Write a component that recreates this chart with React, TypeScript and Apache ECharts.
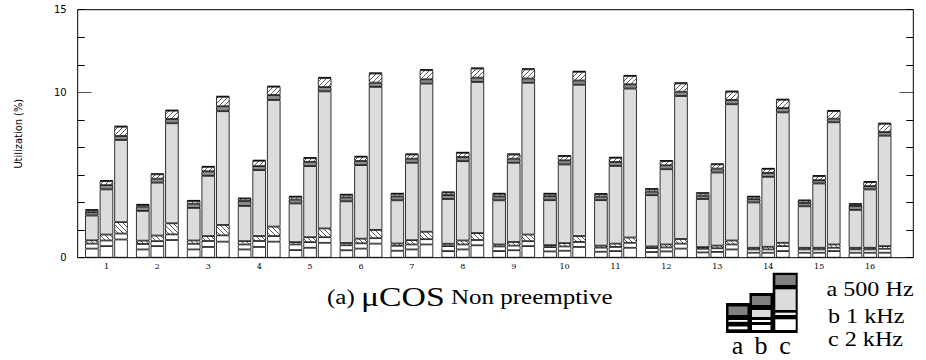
import React, { useEffect, useRef } from "react";
import * as echarts from "echarts";

const groups = ["1","2","3","4","5","6","7","8","9","10","11","12","13","14","15","16"];

// bar a (500 Hz)
const aWhite1 = [0.55,0.5,0.5,0.5,0.46,0.45,0.42,0.4,0.4,0.38,0.36,0.34,0.32,0.3,0.3,0.3];
const aWhite2 = [0.3,0.33,0.34,0.3,0.34,0.3,0.3,0.3,0.28,0.26,0.25,0.24,0.22,0.2,0.2,0.2];
const aHatchLow = [0.2,0.2,0.2,0.2,0.14,0.14,0.14,0.14,0.12,0.12,0.12,0.1,0.1,0.1,0.1,0.1];
const aGray = [1.5,1.8,1.97,2.13,2.34,2.52,2.61,2.71,2.67,2.72,2.75,3.1,2.91,2.74,2.51,2.29];
const aDark = [0.2,0.26,0.26,0.3,0.24,0.24,0.24,0.24,0.24,0.24,0.22,0.22,0.2,0.2,0.2,0.24];
const aHatchTop = [0.12,0.1,0.16,0.14,0.16,0.15,0.15,0.15,0.15,0.14,0.14,0.14,0.14,0.14,0.14,0.1];
const aCap = [0.06,0.06,0.06,0.06,0.06,0.06,0.06,0.06,0.06,0.06,0.06,0.06,0.06,0.06,0.06,0.06];

// bar b (1 kHz)
const bWhite1 = [0.7,0.7,0.65,0.65,0.6,0.55,0.5,0.5,0.45,0.42,0.4,0.38,0.35,0.3,0.3,0.3];
const bWhite2 = [0.34,0.3,0.36,0.36,0.34,0.32,0.3,0.3,0.28,0.26,0.25,0.24,0.22,0.2,0.2,0.2];
const bHatchLow = [0.36,0.34,0.3,0.3,0.3,0.28,0.26,0.24,0.22,0.2,0.2,0.18,0.16,0.16,0.1,0.1];
const bGray = [2.73,3.2,3.64,3.99,4.3,4.45,4.68,4.8,4.79,4.76,4.7,4.55,4.42,4.23,3.89,3.53];
const bDark = [0.26,0.24,0.28,0.24,0.26,0.25,0.25,0.25,0.25,0.25,0.24,0.24,0.24,0.24,0.2,0.2];
const bHatchTop = [0.24,0.26,0.26,0.32,0.22,0.25,0.25,0.25,0.25,0.25,0.25,0.25,0.25,0.24,0.24,0.24];
const bCap = [0.06,0.06,0.06,0.06,0.06,0.06,0.06,0.06,0.06,0.06,0.06,0.06,0.06,0.06,0.06,0.06];

// bar c (2 kHz)
const cWhite1 = [1.1,1.07,0.97,0.97,0.9,0.85,0.8,0.75,0.7,0.65,0.6,0.55,0.5,0.4,0.4,0.3];
const cWhite2 = [0.36,0.34,0.38,0.34,0.34,0.33,0.32,0.32,0.3,0.3,0.3,0.3,0.3,0.3,0.2,0.24];
const cHatchLow = [0.69,0.67,0.63,0.57,0.53,0.5,0.45,0.42,0.4,0.36,0.32,0.28,0.24,0.2,0.2,0.16];
const cGray = [4.97,6.05,6.88,7.66,8.29,8.65,8.96,9.14,9.18,9.15,9.01,8.65,8.24,7.89,7.39,6.68];
const cDark = [0.24,0.26,0.3,0.3,0.26,0.26,0.26,0.26,0.26,0.26,0.26,0.26,0.26,0.26,0.22,0.22];
const cHatchTop = [0.56,0.5,0.57,0.5,0.55,0.55,0.55,0.55,0.55,0.52,0.5,0.5,0.5,0.5,0.46,0.5];
const cCap = [0.06,0.06,0.06,0.06,0.06,0.06,0.06,0.06,0.06,0.06,0.06,0.06,0.06,0.06,0.06,0.06];

const yTickValues = [0, 5 / 3, 10 / 3, 5, 20 / 3, 25 / 3, 10, 35 / 3, 40 / 3, 15];
const yLabelValues = [0, 10, 15];

function makeHatch(forward: boolean): any {
  const s = 5;
  const c = document.createElement("canvas");
  c.width = s;
  c.height = s;
  const ctx = c.getContext("2d")!;
  ctx.fillStyle = "#fff";
  ctx.fillRect(0, 0, s, s);
  ctx.strokeStyle = "#333";
  ctx.lineWidth = 0.8;
  ctx.beginPath();
  if (forward) {
    ctx.moveTo(0, s); ctx.lineTo(s, 0);
    ctx.moveTo(-1, 1); ctx.lineTo(1, -1);
    ctx.moveTo(s - 1, s + 1); ctx.lineTo(s + 1, s - 1);
  } else {
    ctx.moveTo(0, 0); ctx.lineTo(s, s);
    ctx.moveTo(-1, s - 1); ctx.lineTo(1, s + 1);
    ctx.moveTo(s - 1, -1); ctx.lineTo(s + 1, 1);
  }
  ctx.stroke();
  return { image: c, repeat: "repeat" };
}

export default function App() {
  const ref = useRef<HTMLDivElement>(null);
  useEffect(() => {
    if (!ref.current) return;
    const chart = echarts.init(ref.current, null, { renderer: "svg" });

    const segmentLooks = [
      { key: "w1", color: "#ffffff" },
      { key: "w2", color: "#ffffff" },
      { key: "hl", color: makeHatch(false) },
      { key: "g", color: "#dcdcdc" },
      { key: "d", color: "#8a8a8a" },
      { key: "ht", color: makeHatch(true) },
      { key: "cap", color: "#000000" },
    ];
    const barSets = [
      { stack: "a", data: [aWhite1, aWhite2, aHatchLow, aGray, aDark, aHatchTop, aCap] },
      { stack: "b", data: [bWhite1, bWhite2, bHatchLow, bGray, bDark, bHatchTop, bCap] },
      { stack: "c", data: [cWhite1, cWhite2, cHatchLow, cGray, cDark, cHatchTop, cCap] },
    ];

    const series: any[] = [];
    barSets.forEach((set) => {
      set.data.forEach((arr, i) => {
        const look: any = segmentLooks[i];
        series.push({
          type: "bar",
          name: set.stack + "-" + look.key,
          stack: set.stack,
          xAxisIndex: 0,
          yAxisIndex: 0,
          barWidth: 13.5,
          barGap: "8%",
          data: arr,
          itemStyle: {
            color: look.color,
            borderColor: "#000",
            borderWidth: 0.8,
          },
          emphasis: { disabled: true },
        });
      });
    });

    const serif = "'Liberation Serif', 'Times New Roman', serif";
    const option: any = {
      animation: false,
      backgroundColor: "#fff",
      grid: [
        { left: 81, right: 30.5, top: 9.7, bottom: 102.3, show: false },
        { left: 77.7, right: 12.7, top: 9.7, bottom: 102.3, show: true, borderColor: "#000", borderWidth: 1, backgroundColor: "transparent", z: 10 },
      ],
      xAxis: [
        {
          type: "category",
          gridIndex: 0,
          data: groups,
          axisLine: { show: false },
          axisTick: { show: false },
          axisLabel: { fontFamily: "'DejaVu Serif', serif", fontSize: 8, color: "#000", margin: 5 },
        },
        { type: "value", gridIndex: 1, min: 0, max: 1, show: false },
      ],
      yAxis: [
        { type: "value", gridIndex: 0, min: 0, max: 15, show: false },
        {
          type: "value",
          gridIndex: 1,
          min: 0,
          max: 15,
          position: "left",
          splitLine: { show: false },
          axisLine: { show: false },
          axisTick: { show: true, inside: true, length: 7, customValues: yTickValues, lineStyle: { color: "#000" } },
          axisLabel: { customValues: yLabelValues, fontFamily: "'DejaVu Sans', sans-serif", fontSize: 10, color: "#000", margin: 11 },
          name: "Utilization (%)",
          nameLocation: "middle",
          nameGap: 54,
          nameRotate: 90,
          nameTextStyle: { fontFamily: "'Liberation Sans Narrow', 'DejaVu Sans Condensed', sans-serif", fontSize: 11, color: "#000" },
        },
        {
          type: "value",
          gridIndex: 1,
          min: 0,
          max: 15,
          position: "left",
          splitLine: { show: false },
          axisLine: { show: false },
          axisTick: { show: true, inside: true, length: 14, customValues: [10], lineStyle: { color: "#555" } },
          axisLabel: { show: false },
        },
        {
          type: "value",
          gridIndex: 1,
          min: 0,
          max: 15,
          position: "right",
          splitLine: { show: false },
          axisLine: { show: false },
          axisTick: { show: true, inside: true, length: 7, customValues: yTickValues, lineStyle: { color: "#000" } },
          axisLabel: { show: false },
        },
        {
          type: "value",
          gridIndex: 1,
          min: 0,
          max: 15,
          position: "right",
          splitLine: { show: false },
          axisLine: { show: false },
          axisTick: { show: true, inside: true, length: 14, customValues: [10], lineStyle: { color: "#555" } },
          axisLabel: { show: false },
        },
      ],
      series,
      graphic: [
        {
          type: "text",
          x: 327,
          y: 297,
          scaleX: 1.25,
          style: {
            text: "{s|(a) }{m|μCOS}{s| Non preemptive}",
            rich: {
              s: { fontFamily: serif, fontSize: 20, fill: "#000" },
              m: { fontFamily: serif, fontSize: 27, fill: "#000" },
            },
            verticalAlign: "middle",
            fill: "#000",
          },
        },
        // legend key boxes
        { type: "rect", shape: { x: 726, y: 303, width: 24, height: 30 }, style: { fill: "#000" } },
        { type: "rect", shape: { x: 728.5, y: 306.5, width: 19, height: 8.5 }, style: { fill: "#808080" } },
        { type: "rect", shape: { x: 728.5, y: 320, width: 19, height: 1.8 }, style: { fill: "#fff" } },
        { type: "rect", shape: { x: 728.5, y: 326.5, width: 19, height: 2.8 }, style: { fill: "#fff" } },

        { type: "rect", shape: { x: 749.5, y: 293, width: 23.5, height: 40 }, style: { fill: "#000" } },
        { type: "rect", shape: { x: 752, y: 296, width: 18.5, height: 9 }, style: { fill: "#808080" } },
        { type: "rect", shape: { x: 752, y: 310, width: 18.5, height: 7 }, style: { fill: "#dcdcdc" } },
        { type: "rect", shape: { x: 752, y: 320, width: 18.5, height: 2 }, style: { fill: "#fff" } },
        { type: "rect", shape: { x: 752, y: 325, width: 18.5, height: 5 }, style: { fill: "#fff" } },

        { type: "rect", shape: { x: 772.7, y: 272.7, width: 25, height: 60.3 }, style: { fill: "#000" } },
        { type: "rect", shape: { x: 775.3, y: 275, width: 20.4, height: 10 }, style: { fill: "#808080" } },
        { type: "rect", shape: { x: 775.3, y: 289.3, width: 20.4, height: 20.7 }, style: { fill: "#dcdcdc" } },
        { type: "rect", shape: { x: 775.3, y: 312.7, width: 20.4, height: 2.3 }, style: { fill: "#eee" } },
        { type: "rect", shape: { x: 775.3, y: 319.3, width: 20.4, height: 10.7 }, style: { fill: "#fff" } },

        { type: "text", x: 737.5, y: 345, style: { text: "a", fontFamily: serif, fontSize: 26, fill: "#000", align: "center", verticalAlign: "middle" } },
        { type: "text", x: 761, y: 345, style: { text: "b", fontFamily: serif, fontSize: 26, fill: "#000", align: "center", verticalAlign: "middle" } },
        { type: "text", x: 785, y: 345, style: { text: "c", fontFamily: serif, fontSize: 26, fill: "#000", align: "center", verticalAlign: "middle" } },

        { type: "text", x: 826.5, y: 289, scaleX: 1.15, style: { text: "a 500 Hz", fontFamily: serif, fontSize: 21, fill: "#000", verticalAlign: "middle" } },
        { type: "text", x: 828, y: 316, scaleX: 1.15, style: { text: "b 1 kHz", fontFamily: serif, fontSize: 21, fill: "#000", verticalAlign: "middle" } },
        { type: "text", x: 828, y: 339, scaleX: 1.15, style: { text: "c 2 kHz", fontFamily: serif, fontSize: 21, fill: "#000", verticalAlign: "middle" } },
      ],
    };
    chart.setOption(option);
    return () => chart.dispose();
  }, []);
  return (
    <div
      ref={ref}
      style={{ position: "fixed", left: 0, top: 0, width: 926, height: 360, background: "#fff" }}
    />
  );
}
